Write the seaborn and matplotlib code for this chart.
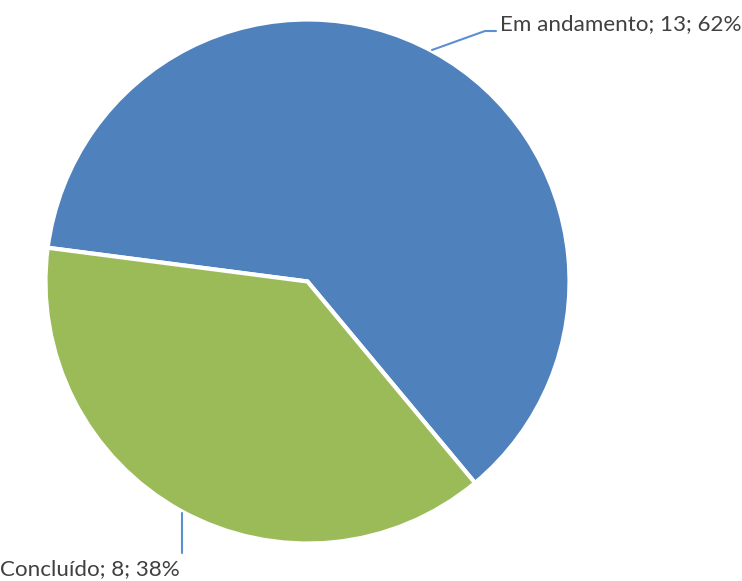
import matplotlib
matplotlib.use("Agg")
import matplotlib.pyplot as plt
import seaborn as sns

categories = ["Em andamento", "Concluído"]
values = [13, 8]
percents = ["62%", "38%"]
colors = ["#4F81BD", "#9BBB59"]

sns.set_theme(style="white")
plt.rcParams['font.family'] = ['Lato', 'DejaVu Sans']

W, H = 742, 581
fig = plt.figure(figsize=(W / 100, H / 100), dpi=100)
ax = fig.add_axes([0, 0, 1, 1])
ax.set_xlim(0, W)
ax.set_ylim(0, H)
ax.set_aspect('equal')
ax.axis('off')

cx, cy, r = 307.5, H - 281.5, 262
ax.pie(values, colors=colors, startangle=172.6, counterclock=False,
       center=(cx, cy), radius=r,
       wedgeprops=dict(edgecolor='white', linewidth=3))
ax.set_xlim(0, W)
ax.set_ylim(0, H)

labels = [f"{c}; {v}; {p}" for c, v, p in zip(categories, values, percents)]
line_c = "#5B8FD0"
ax.plot([432, 485, 496], [H - 50, H - 31, H - 31], color=line_c, lw=1.5)
ax.text(500, H - 24, labels[0], fontsize=16.1, color="#404040", va='center', ha='left')
ax.plot([182, 182], [H - 513, H - 553], color=line_c, lw=1.5)
ax.text(0, H - 569, labels[1], fontsize=16.1, color="#404040", va='center', ha='left')

fig.savefig("out.png", dpi=100)
